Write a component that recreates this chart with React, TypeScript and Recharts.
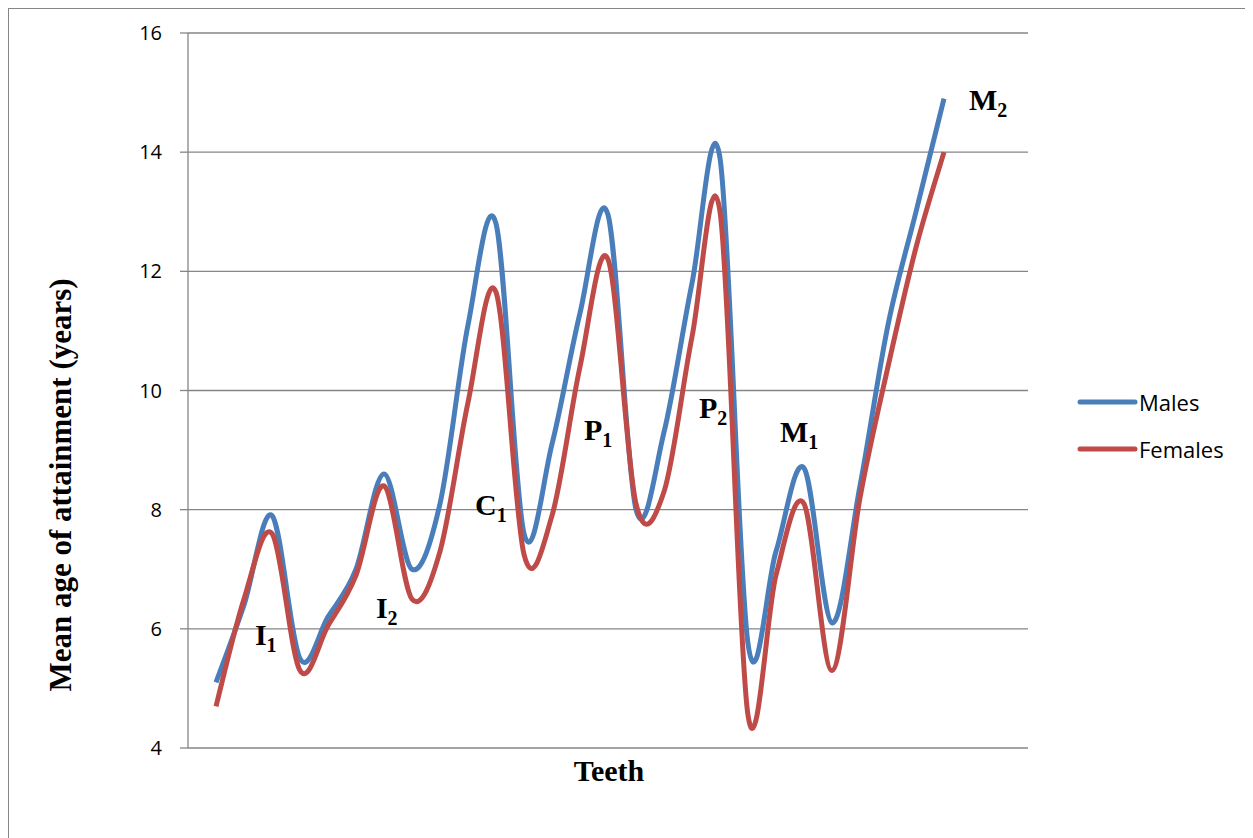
import React from "react";
import { CartesianGrid, Legend, Line, LineChart, ReferenceDot, XAxis, YAxis } from "recharts";

// Observation slots along the (unlabelled) teeth axis; the axis runs 0..30.
const SLOTS = [1, 2, 3, 4, 5, 6, 7, 8, 9, 10, 11, 12, 13, 14, 15, 16, 17, 18, 19, 20, 21, 22, 23, 24, 25, 26, 27];
const MALES = [5.1, 6.4, 7.9, 5.5, 6.2, 7.0, 8.6, 7.0, 8.1, 11.1, 12.8, 7.6, 9.1, 11.3, 12.95, 8.0, 9.3, 11.8, 13.9, 5.75, 7.3, 8.7, 6.1, 8.4, 11.1, 13.0, 14.9];
const FEMALES = [4.7, 6.5, 7.6, 5.3, 6.05, 6.9, 8.4, 6.5, 7.3, 9.8, 11.65, 7.25, 7.9, 10.4, 12.2, 8.1, 8.3, 10.9, 13.0, 4.55, 6.9, 8.1, 5.3, 8.2, 10.4, 12.4, 14.0];
const Y_TICKS = [4, 6, 8, 10, 12, 14, 16];
const LEGEND_ORDER = ["Males", "Females"];

// tooth name annotations, anchored in data units (slot, years)
const TOOTH_NAMES = ["I", "I", "C", "P", "P", "M", "M"];
const TOOTH_SUBS = ["1", "2", "1", "1", "2", "1", "2"];
const TOOTH_AT_SLOT = [2.39, 6.71, 10.25, 14.14, 18.25, 21.14, 27.89];
const TOOTH_AT_YEARS = [5.73, 6.18, 7.91, 9.17, 9.54, 9.14, 14.71];

const rows = SLOTS.map((s, i) => ({ slot: s, males: MALES[i], females: FEMALES[i] }));

const BLUE = "#4a7ebb";
const RED = "#be4b48";
const GRID = "#868686";
const SERIF = "'Liberation Serif', 'Times New Roman', serif";
const SANS = "'Open Sans', 'Liberation Sans', sans-serif";

// Excel-like smoothing: uniform Catmull-Rom as cubic beziers
const excelSmooth = (context: any) => {
  let pts: number[][] = [];
  return {
    areaStart() {},
    areaEnd() {},
    lineStart() {
      pts = [];
    },
    point(x: number, y: number) {
      pts.push([+x, +y]);
    },
    lineEnd() {
      const n = pts.length;
      if (!n) return;
      context.moveTo(pts[0][0], pts[0][1]);
      for (let i = 0; i < n - 1; i++) {
        const p0 = pts[i - 1] || pts[i];
        const p1 = pts[i];
        const p2 = pts[i + 1];
        const p3 = pts[i + 2] || p2;
        context.bezierCurveTo(
          p1[0] + (p2[0] - p0[0]) / 6,
          p1[1] + (p2[1] - p0[1]) / 6,
          p2[0] - (p3[0] - p1[0]) / 6,
          p2[1] - (p3[1] - p1[1]) / 6,
          p2[0],
          p2[1]
        );
      }
    },
  };
};

function LegendBox({ payload }: any) {
  const items = [...(payload || [])].sort(
    (a: any, b: any) => LEGEND_ORDER.indexOf(a.value) - LEGEND_ORDER.indexOf(b.value)
  );
  return (
    <div>
      {items.map((p: any) => (
        <div key={p.value} style={{ display: "flex", alignItems: "center", height: 47 }}>
          <svg width={61} height={10}>
            <line x1={3} y1={5} x2={58} y2={5} stroke={p.color} strokeWidth={5} strokeLinecap="round" />
          </svg>
          <span style={{ fontFamily: SANS, fontSize: 22, color: "#000", marginLeft: 1 }}>{p.value}</span>
        </div>
      ))}
    </div>
  );
}

export default function App() {
  return (
    <div style={{ position: "relative", width: 1245, height: 830, overflow: "hidden", background: "#fff" }}>
      <div
        style={{
          position: "absolute",
          left: 0,
          top: 0,
          width: 1245,
          height: 830,
          borderLeft: `1px solid ${GRID}`,
          borderTop: `1px solid ${GRID}`,
          boxSizing: "border-box",
        }}
      />
      <LineChart
        width={1245}
        height={830}
        data={rows}
        margin={{ top: 25, right: 45, bottom: 90, left: 130 }}
        style={{ position: "absolute", left: 0, top: 0 }}
      >
        <CartesianGrid vertical={false} stroke={GRID} strokeWidth={1.3} />
        <XAxis type="number" dataKey="slot" domain={[0, 30]} hide />
        <YAxis
          width={50}
          domain={[4, 16]}
          ticks={Y_TICKS}
          tickSize={8}
          tickMargin={18}
          axisLine={{ stroke: GRID, strokeWidth: 1.3 }}
          tickLine={{ stroke: GRID, strokeWidth: 1.3 }}
          tick={{ fill: "#000", fontSize: 20, fontFamily: SANS }}
        />
        <Legend
          layout="vertical"
          align="right"
          verticalAlign="middle"
          content={LegendBox}
          wrapperStyle={{ left: 1069, top: 370, width: 180 }}
        />
        <Line
          name="Males"
          dataKey="males"
          type={excelSmooth as any}
          stroke={BLUE}
          strokeWidth={5}
          dot={false}
          activeDot={false}
          isAnimationActive={false}
        />
        <Line
          name="Females"
          dataKey="females"
          type={excelSmooth as any}
          stroke={RED}
          strokeWidth={5}
          dot={false}
          activeDot={false}
          isAnimationActive={false}
        />
        {TOOTH_NAMES.map((name, i) => (
          <ReferenceDot
            key={i}
            x={TOOTH_AT_SLOT[i]}
            y={TOOTH_AT_YEARS[i]}
            r={0}
            fill="none"
            stroke="none"
            label={(props: any) => (
              <text
                x={props.viewBox.x}
                y={props.viewBox.y}
                fontFamily={SERIF}
                fontWeight="bold"
                fontSize={30}
                fill="#000"
              >
                {name}
                <tspan fontSize={20} dy={7}>
                  {TOOTH_SUBS[i]}
                </tspan>
              </text>
            )}
          />
        ))}
      </LineChart>
      <div
        style={{
          position: "absolute",
          left: 52,
          top: 477,
          transform: "translate(-50%, -50%) rotate(-90deg)",
          whiteSpace: "nowrap",
          fontFamily: SERIF,
          fontWeight: "bold",
          fontSize: 31,
          lineHeight: 1,
          color: "#000",
        }}
      >
        Mean age of attainment (years)
      </div>
      <div
        style={{
          position: "absolute",
          left: 601,
          top: 763,
          transform: "translate(-50%, -50%)",
          whiteSpace: "nowrap",
          fontFamily: SERIF,
          fontWeight: "bold",
          fontSize: 30,
          lineHeight: 1,
          color: "#000",
        }}
      >
        Teeth
      </div>
    </div>
  );
}
